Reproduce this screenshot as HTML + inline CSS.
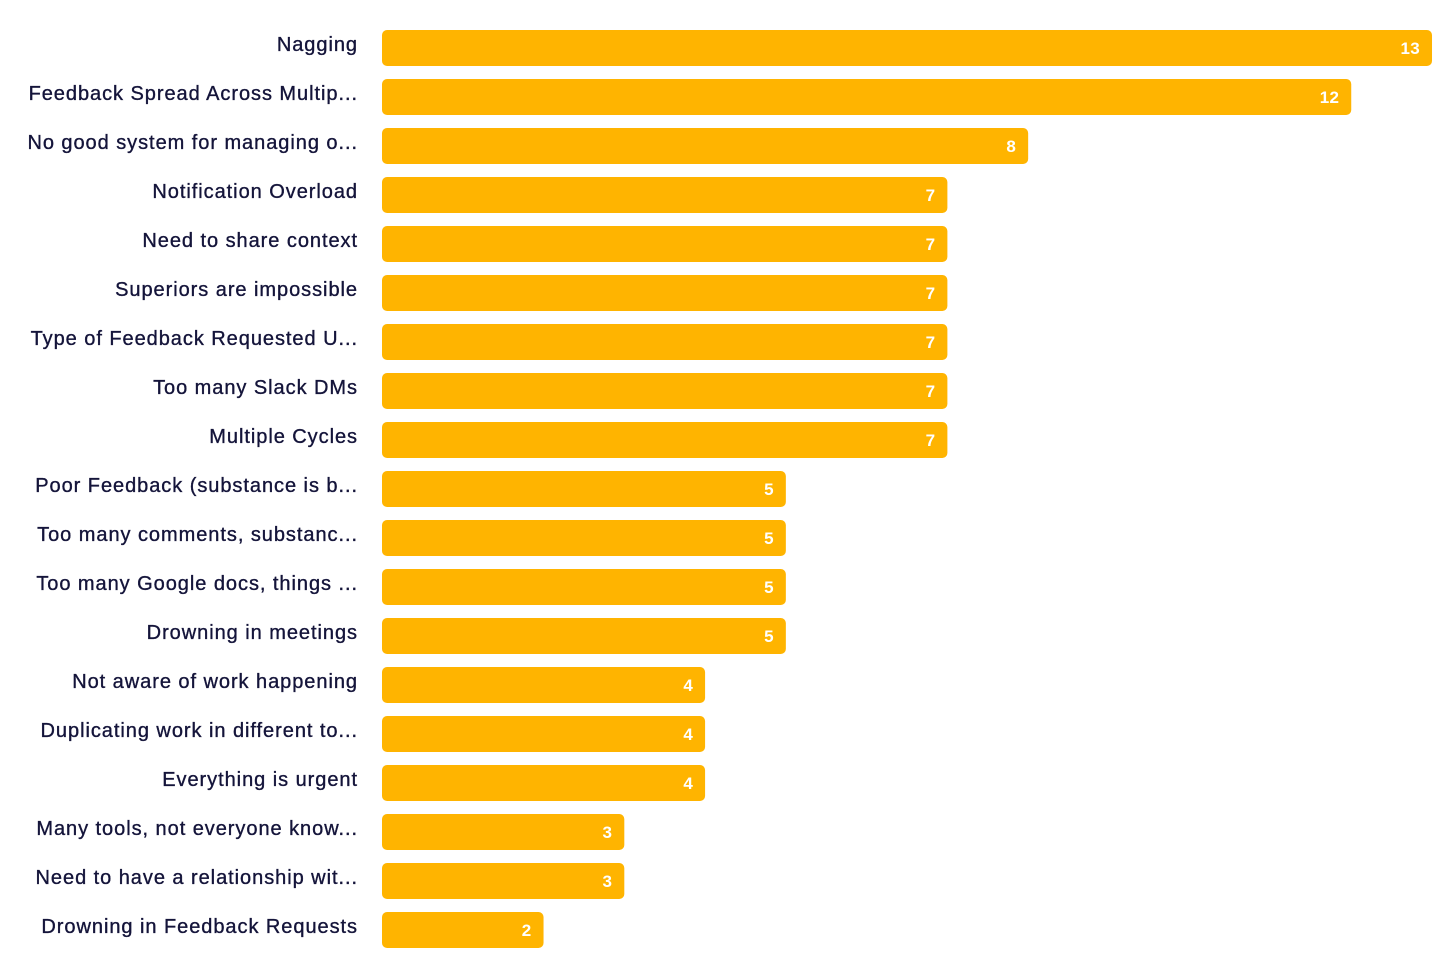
<!DOCTYPE html>
<html><head><meta charset="utf-8"><style>
html,body{margin:0;padding:0;background:#fff;}
svg{display:block;}
.l{font-family:"Liberation Sans",sans-serif;font-size:20px;fill:#14143a;stroke:#14143a;stroke-width:0.35px;text-anchor:end;letter-spacing:0.95px;}
.v{font-family:"Liberation Sans",sans-serif;font-size:17px;font-weight:bold;fill:#fff;text-anchor:end;letter-spacing:0.3px;}
</style></head><body>
<svg width="1456" height="979" xmlns="http://www.w3.org/2000/svg">
<g id="g"></g>
</svg>
<script>
const d=[["Nagging",13],["Feedback Spread Across Multip...",12],["No good system for managing o...",8],["Notification Overload",7],["Need to share context",7],["Superiors are impossible",7],["Type of Feedback Requested U...",7],["Too many Slack DMs",7],["Multiple Cycles",7],["Poor Feedback (substance is b...",5],["Too many comments, substanc...",5],["Too many Google docs, things ...",5],["Drowning in meetings",5],["Not aware of work happening",4],["Duplicating work in different to...",4],["Everything is urgent",4],["Many tools, not everyone know...",3],["Need to have a relationship wit...",3],["Drowning in Feedback Requests",2]];
let h="";
d.forEach((r,i)=>{const y=30+i*49;const w=r[1]*80.77;
h+=`<rect x="382" y="${y}" width="${w}" height="36" rx="5" fill="#FFB400"/>`;
h+=`<text class="l" x="358" y="${y+21}">${r[0].replace(/&/g,'&amp;')}</text>`;
h+=`<text class="v" x="${382+w-12}" y="${y+24}">${r[1]}</text>`;});
document.getElementById("g").innerHTML=h;
</script>
</body></html>
